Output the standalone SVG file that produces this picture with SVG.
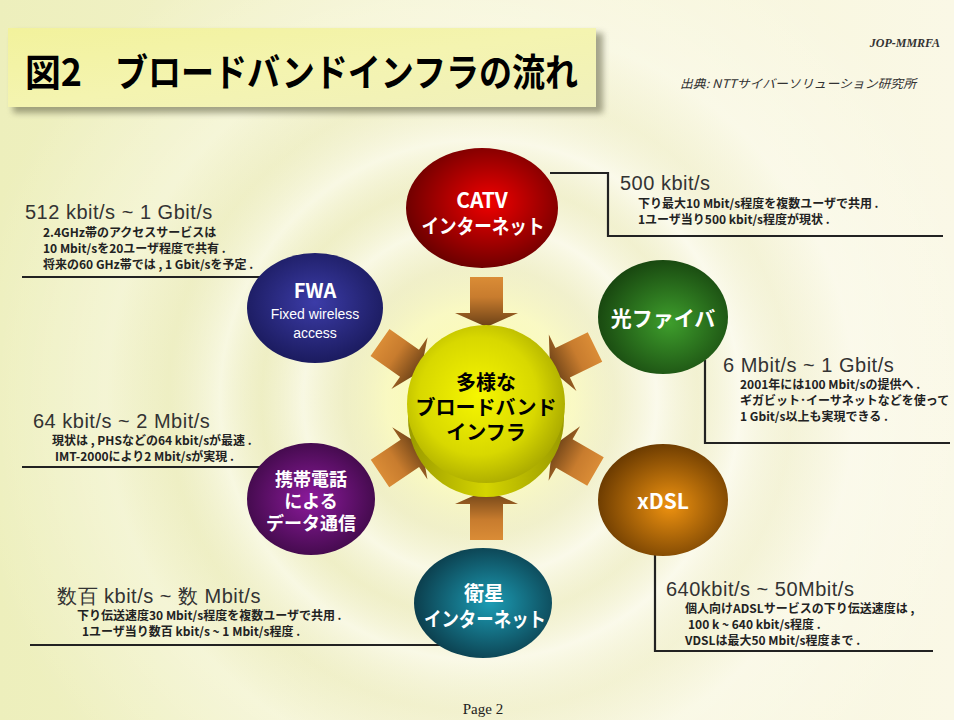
<svg xmlns="http://www.w3.org/2000/svg" width="954" height="720" viewBox="0 0 954 720">
<defs>
<linearGradient id="bgLin" x1="0" y1="0" x2="1" y2="0">
<stop offset="0" stop-color="#edefbc"/>
<stop offset="0.45" stop-color="#f5f4d2"/>
<stop offset="1" stop-color="#faf8e6"/>
</linearGradient>
<radialGradient id="ripple" cx="480" cy="400" r="520" gradientUnits="userSpaceOnUse">
<stop offset="0" stop-color="#ffffa0" stop-opacity="0.9"/>
<stop offset="0.18" stop-color="#fcfcb8" stop-opacity="0.6"/>
<stop offset="0.26" stop-color="#e8e8b8" stop-opacity="0.35"/>
<stop offset="0.34" stop-color="#ffffff" stop-opacity="0.45"/>
<stop offset="0.42" stop-color="#e6e6b8" stop-opacity="0.3"/>
<stop offset="0.5" stop-color="#ffffff" stop-opacity="0.45"/>
<stop offset="0.6" stop-color="#e8e8c0" stop-opacity="0.25"/>
<stop offset="0.72" stop-color="#ffffff" stop-opacity="0.3"/>
<stop offset="1" stop-color="#ffffff" stop-opacity="0"/>
</radialGradient>
<linearGradient id="banner" x1="0" y1="0" x2="1" y2="1">
<stop offset="0" stop-color="#f2f29c"/>
<stop offset="0.5" stop-color="#f4f4b0"/>
<stop offset="1" stop-color="#f0f0bc"/>
</linearGradient>
<filter id="sh" x="-5%" y="-20%" width="115%" height="150%">
<feGaussianBlur stdDeviation="3"/>
</filter>
<linearGradient id="arr" x1="0" y1="0" x2="1" y2="0">
<stop offset="0" stop-color="#da8c36"/>
<stop offset="0.4" stop-color="#c87c2e"/>
<stop offset="1" stop-color="#6a4016"/>
</linearGradient>
<radialGradient id="gCatv" cx="0.55" cy="0.45" r="0.6">
<stop offset="0" stop-color="#f00000"/>
<stop offset="1" stop-color="#640000"/>
</radialGradient>
<radialGradient id="gFwa" cx="0.5" cy="0.45" r="0.6">
<stop offset="0" stop-color="#3c3ca8"/>
<stop offset="1" stop-color="#181858"/>
</radialGradient>
<radialGradient id="gOpt" cx="0.55" cy="0.55" r="0.6">
<stop offset="0" stop-color="#3e9e2c"/>
<stop offset="1" stop-color="#16420e"/>
</radialGradient>
<radialGradient id="gMob" cx="0.5" cy="0.5" r="0.6">
<stop offset="0" stop-color="#8c1a9c"/>
<stop offset="1" stop-color="#380840"/>
</radialGradient>
<radialGradient id="gDsl" cx="0.55" cy="0.55" r="0.6">
<stop offset="0" stop-color="#ee9210"/>
<stop offset="1" stop-color="#643600"/>
</radialGradient>
<radialGradient id="gSat" cx="0.55" cy="0.5" r="0.6">
<stop offset="0" stop-color="#1c9cb4"/>
<stop offset="1" stop-color="#0a3644"/>
</radialGradient>
<radialGradient id="gSph" cx="0.45" cy="0.45" r="0.62">
<stop offset="0" stop-color="#f6f600"/>
<stop offset="0.6" stop-color="#d8d800"/>
<stop offset="1" stop-color="#a0a000"/>
</radialGradient>
<linearGradient id="gBand" x1="0" y1="0" x2="1" y2="0">
<stop offset="0" stop-color="#9a9a00"/>
<stop offset="0.5" stop-color="#d4d400"/>
<stop offset="1" stop-color="#9a9a00"/>
</linearGradient>
<path id="arrow" d="M0,-16.5 L36,-16.5 L36,-31.5 L50,0 L36,31.5 L36,16.5 L0,16.5 Z"/>
</defs>
<style>
.big{font-family:"Liberation Sans","Noto Sans",sans-serif;font-size:20px;fill:#333333;letter-spacing:0.5px}
.sub{font-family:"Noto Sans CJK JP","Noto Sans",sans-serif;font-size:12px;font-weight:bold;fill:#222222}
.ln{stroke:#222222;stroke-width:2.2;fill:none}
.wt{font-family:"Noto Sans CJK JP","Liberation Sans",sans-serif;font-weight:bold;fill:#ffffff;text-anchor:middle}
.bk{font-family:"Noto Sans CJK JP",sans-serif;font-weight:bold;fill:#000000;text-anchor:middle}
</style>

<!-- background -->
<rect x="0" y="0" width="954" height="720" fill="url(#bgLin)"/>
<rect x="0" y="0" width="954" height="720" fill="url(#ripple)"/>

<!-- title banner -->
<g id="title">
<rect x="13" y="33" width="590" height="80" fill="#6a6a50" opacity="0.6" filter="url(#sh)"/>
<rect x="8" y="28" width="588" height="79" fill="url(#banner)"/>
<text x="25" y="86" font-family="'Noto Sans CJK JP',sans-serif" font-weight="bold" font-size="38" textLength="57" lengthAdjust="spacingAndGlyphs" fill="#000">図2</text>
<text x="115" y="86" font-family="'Noto Sans CJK JP',sans-serif" font-weight="bold" font-size="38" textLength="463" lengthAdjust="spacingAndGlyphs" fill="#000">ブロードバンドインフラの流れ</text>
</g>
<text x="940" y="47" text-anchor="end" font-family="'Liberation Serif',serif" font-style="italic" font-weight="bold" font-size="12" fill="#333">JOP-MMRFA</text>
<text x="680" y="88" font-family="'Noto Sans CJK JP',sans-serif" font-style="italic" font-size="12" textLength="236" lengthAdjust="spacingAndGlyphs" fill="#333">出典:  NTTサイバーソリューション研究所</text>

<!-- connectors -->
<g id="connectors">
<polyline class="ln" points="22,277 270,277"/>
<polyline class="ln" points="550,173 608,173 608,236 943,236"/>
<polyline class="ln" points="705,360 705,443 950,443"/>
<polyline class="ln" points="22,467 272,467"/>
<polyline class="ln" points="30,645 440,645"/>
<polyline class="ln" points="655,540 655,651 933,651"/>
<use href="#arrow" fill="url(#arr)" transform="translate(486.5,277) rotate(90)"/>
<use href="#arrow" fill="url(#arr)" transform="translate(486.5,540) rotate(-90)"/>
<use href="#arrow" fill="url(#arr)" transform="translate(380,342.5) rotate(35)"/>
<use href="#arrow" fill="url(#arr)" transform="translate(595,347) rotate(154)"/>
<use href="#arrow" fill="url(#arr)" transform="translate(380,473.5) rotate(-34)"/>
<use href="#arrow" fill="url(#arr)" transform="translate(595.5,471.5) rotate(210)"/>
</g>

<!-- text blocks -->
<g id="t-fwa">
<text class="big" x="25" y="219">512 kbit/s ~ 1 Gbit/s</text>
<text class="sub" x="43" y="237">2.4GHz帯のアクセスサービスは</text>
<text class="sub" x="43" y="253">10 Mbit/sを20ユーザ程度で共有 .</text>
<text class="sub" x="43" y="269">将来の60 GHz帯では , 1 Gbit/sを予定 .</text>
</g>
<g id="t-catv">
<text class="big" x="620" y="190">500 kbit/s</text>
<text class="sub" x="638" y="208">下り最大10 Mbit/s程度を複数ユーザで共用 .</text>
<text class="sub" x="638" y="224">1ユーザ当り500 kbit/s程度が現状 .</text>
</g>
<g id="t-opt">
<text class="big" x="723" y="372">6 Mbit/s ~ 1 Gbit/s</text>
<text class="sub" x="740" y="389">2001年には100 Mbit/sの提供へ .</text>
<text class="sub" x="740" y="405">ギガビット･イーサネットなどを使って</text>
<text class="sub" x="740" y="421">1 Gbit/s以上も実現できる .</text>
</g>
<g id="t-mob">
<text class="big" x="33" y="428">64 kbit/s ~ 2 Mbit/s</text>
<text class="sub" x="52" y="445">現状は , PHSなどの64 kbit/sが最速 .</text>
<text class="sub" x="55" y="461">IMT-2000により2  Mbit/sが実現 .</text>
</g>
<g id="t-sat">
<text class="big" x="57" y="603">数百 kbit/s ~ 数 Mbit/s</text>
<text class="sub" x="77" y="620">下り伝送速度30 Mbit/s程度を複数ユーザで共用 .</text>
<text class="sub" x="82" y="636">1ユーザ当り数百 kbit/s ~ 1 Mbit/s程度 .</text>
</g>
<g id="t-dsl">
<text class="big" x="666" y="596">640kbit/s ~ 50Mbit/s</text>
<text class="sub" x="685" y="613">個人向けADSLサービスの下り伝送速度は ,</text>
<text class="sub" x="688" y="629">100 k ~ 640 kbit/s程度 .</text>
<text class="sub" x="685" y="645">VDSLは最大50 Mbit/s程度まで .</text>
</g>

<!-- nodes -->
<g id="catv">
<ellipse cx="482" cy="208" rx="76" ry="60" fill="url(#gCatv)"/>
<text class="wt" x="482" y="208" font-size="21">CATV</text>
<text class="wt" x="483" y="234" font-size="20" textLength="123" lengthAdjust="spacingAndGlyphs">インターネット</text>
</g>
<g id="fwa">
<ellipse cx="315" cy="308" rx="68" ry="55" fill="url(#gFwa)"/>
<text class="wt" x="315" y="298" font-size="20">FWA</text>
<text x="315" y="319" text-anchor="middle" font-family="'Liberation Sans',sans-serif" font-size="14" fill="#ffffff">Fixed wireless</text>
<text x="315" y="338" text-anchor="middle" font-family="'Liberation Sans',sans-serif" font-size="14" fill="#ffffff">access</text>
</g>
<g id="optical">
<ellipse cx="663" cy="317" rx="65" ry="57" fill="url(#gOpt)"/>
<text class="wt" x="663" y="326" font-size="21">光ファイバ</text>
</g>
<g id="mobile">
<ellipse cx="311" cy="499" rx="64" ry="56" fill="url(#gMob)"/>
<text class="wt" x="311" y="486" font-size="18">携帯電話</text>
<text class="wt" x="311" y="508" font-size="18">による</text>
<text class="wt" x="311" y="530" font-size="18">データ通信</text>
</g>
<g id="xdsl">
<ellipse cx="663" cy="500" rx="65" ry="56" fill="url(#gDsl)"/>
<text class="wt" x="663" y="509" font-size="21">xDSL</text>
</g>
<g id="sat">
<ellipse cx="483" cy="603" rx="69" ry="55" fill="url(#gSat)"/>
<text class="wt" x="484" y="601" font-size="20">衛星</text>
<text class="wt" x="485" y="627" font-size="20" textLength="122" lengthAdjust="spacingAndGlyphs">インターネット</text>
</g>
<g id="center">
<ellipse cx="486" cy="418" rx="78" ry="79" fill="url(#gBand)"/>
<ellipse cx="486" cy="404" rx="79" ry="79" fill="url(#gSph)"/>
<text class="bk" x="486" y="390" font-size="20">多様な</text>
<text class="bk" x="486" y="415" font-size="20">ブロードバンド</text>
<text class="bk" x="486" y="440" font-size="20">インフラ</text>
</g>

<text x="483" y="714" text-anchor="middle" font-family="'Liberation Serif',serif" font-size="15" fill="#222">Page 2</text>
</svg>
